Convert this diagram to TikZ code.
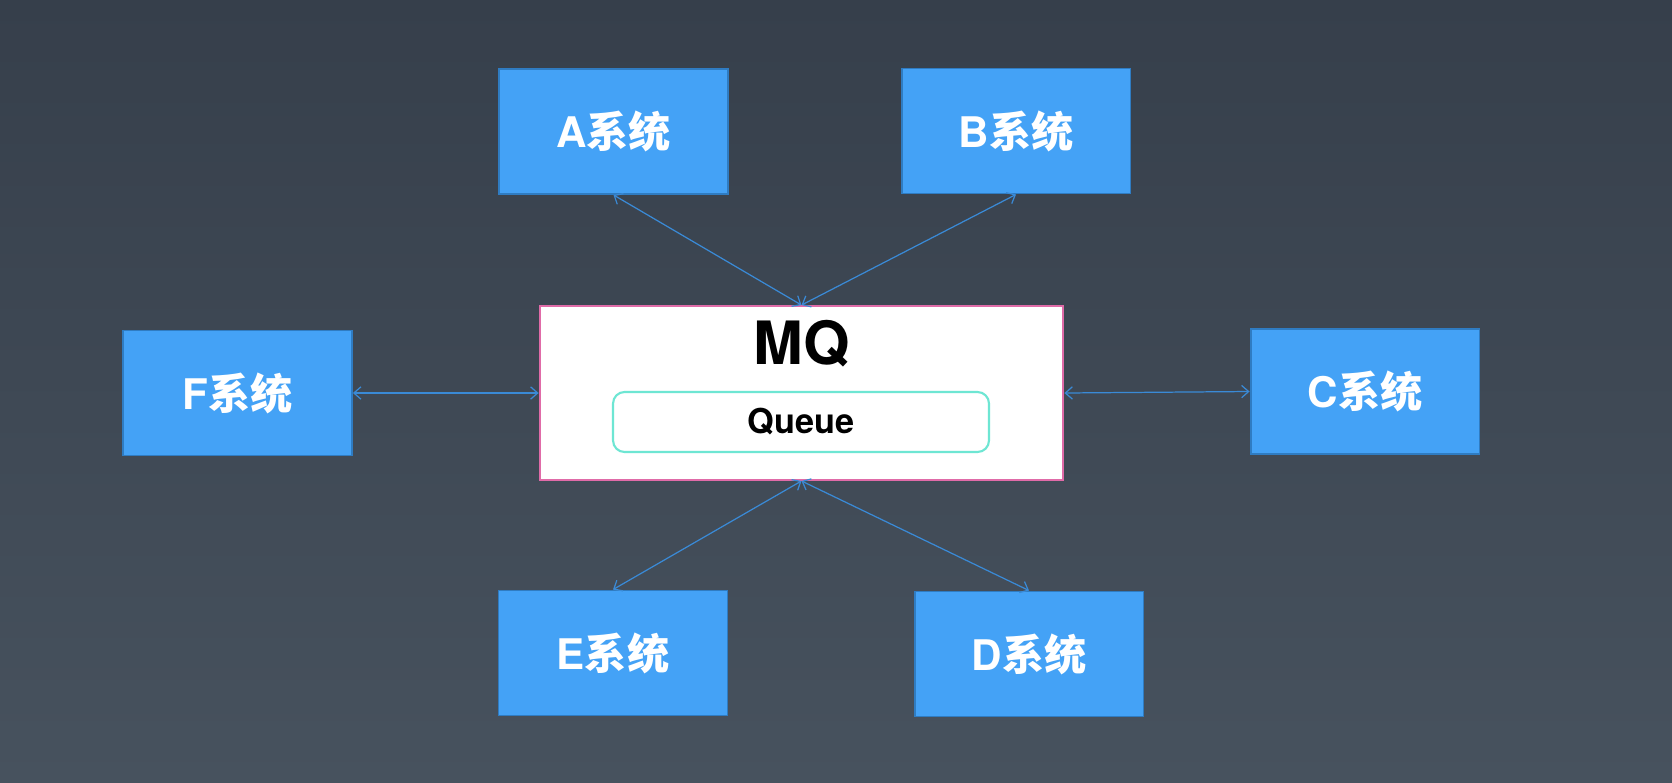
\documentclass[tikz,border=0pt]{standalone}
\usepackage{fontspec}
\setmainfont{TeX Gyre Heros}
\newfontfamily\cjk{Noto Sans CJK SC}
\usetikzlibrary{arrows.meta}

\definecolor{bgtop}{HTML}{363F4B}
\definecolor{bgbottom}{HTML}{47525E}
\definecolor{sysfill}{HTML}{44A2F6}
\definecolor{sysline}{HTML}{2F7CC2}
\definecolor{linkblue}{HTML}{3A8AD6}
\definecolor{mqpink}{HTML}{E06BA8}
\definecolor{queueteal}{HTML}{6EE6D3}

\begin{document}
\begin{tikzpicture}[x=0.02cm, y=-0.02cm,
    sys/.style={draw=sysline, line width=1.1pt, fill=sysfill, text=white,
      minimum width=4.58cm, minimum height=2.5cm, inner sep=0pt,
      font=\fontsize{24}{28}\selectfont\bfseries},
    link/.style={draw=linkblue, line width=0.7pt,
      {Straight Barb[length=4pt, width=7pt]}-{Straight Barb[length=4pt, width=7pt]}}]
    \shade[top color=bgtop, bottom color=bgbottom] (0, 0) rectangle (1672, 782);
    \useasboundingbox (0, 0) rectangle (1672, 782);

    \node[draw=mqpink, line width=1.1pt, fill=white, minimum width=10.48cm, minimum height=3.48cm] (mq) at (801.5, 393) {};
    \node[font=\fontsize{34}{40}\selectfont\bfseries] (mqtext) at (802, 344) {MQ};
    \node[draw=queueteal, line width=1.2pt, rounded corners=6.5pt, minimum width=7.52cm, minimum height=1.2cm,
      font=\fontsize{19.5}{22}\selectfont\bfseries] (queue) at (801, 422) {Queue};

    \node[sys] (sysA) at (613.5, 131.5) {A{\cjk 系统}};
    \node[sys] (sysB) at (1016, 131) {B{\cjk 系统}};
    \node[sys] (sysC) at (1365, 391.5) {C{\cjk 系统}};
    \node[sys] (sysD) at (1029, 654) {D{\cjk 系统}};
    \node[sys] (sysE) at (613, 653) {E{\cjk 系统}};
    \node[sys] (sysF) at (237.5, 393) {F{\cjk 系统}};

    \draw[link] (sysA.south) -- (mq.north);
    \draw[link] (sysB.south) -- (mq.north);
    \draw[link] (sysC.west) -- (mq.east);
    \draw[link] (sysD.north) -- (mq.south);
    \draw[link] (sysE.north) -- (mq.south);
    \draw[link] (sysF.east) -- (mq.west);
\end{tikzpicture}
\end{document}
